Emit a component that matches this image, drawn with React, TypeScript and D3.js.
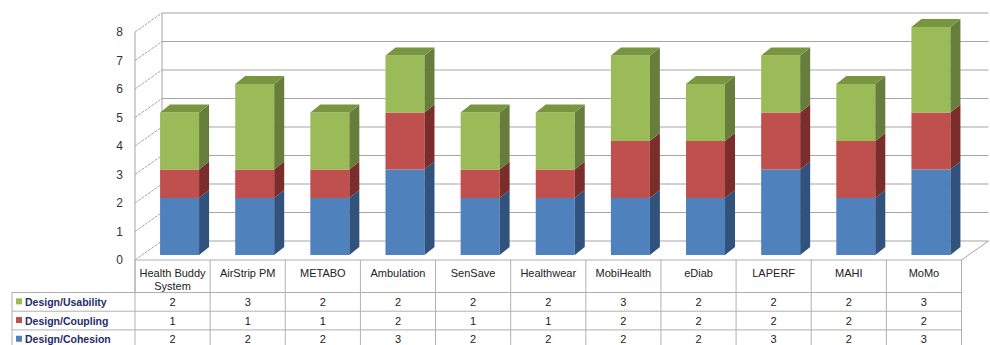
import React, { useEffect, useRef } from "react";
import * as d3 from "d3";

const categories = [
	"Health Buddy System",
	"AirStrip PM",
	"METABO",
	"Ambulation",
	"SenSave",
	"Healthwear",
	"MobiHealth",
	"eDiab",
	"LAPERF",
	"MAHI",
	"MoMo",
];
const cohesion = [2, 2, 2, 3, 2, 2, 2, 2, 3, 2, 3];
const coupling = [1, 1, 1, 2, 1, 1, 2, 2, 2, 2, 2];
const usability = [2, 3, 2, 2, 2, 2, 3, 2, 2, 2, 3];
const seriesNames = ["Design/Cohesion", "Design/Coupling", "Design/Usability"];
const yTicks = [0, 1, 2, 3, 4, 5, 6, 7, 8];

const colors = {
	"Design/Cohesion": { front: "#4F81BD", side: "#30527C", top: "#3E6A9E" },
	"Design/Coupling": { front: "#C0504D", side: "#7B2D2B", top: "#9C3E3B" },
	"Design/Usability": { front: "#9BBB59", side: "#677D3B", top: "#78963F" },
} as Record<string, { front: string; side: string; top: string }>;

const App: React.FC = () => {
	const chartRef = useRef<SVGSVGElement | null>(null);

	useEffect(() => {
		if (!chartRef.current) return;
		const svg = d3.select(chartRef.current);
		const font = "'Liberation Sans', Arial, sans-serif";

		const left = 135;
		const right = 961.5;
		const wall = { dx: 27, dy: -19 };
		const barOff = { dx: 7, dy: -5 };
		const barDepth = { dx: 10, dy: -8 };
		const barW = 39;

		const x = d3.scaleBand<string>().domain(categories).range([left, right]);
		const y = d3.scaleLinear().domain([0, 8]).range([260, 32]);

		const rows = categories.map((c, i) => ({
			name: c,
			"Design/Cohesion": cohesion[i],
			"Design/Coupling": coupling[i],
			"Design/Usability": usability[i],
		}));
		const stacked = d3.stack<any>().keys(seriesNames)(rows);

		const grid = svg.append("g").attr("stroke", "#a6a6a6").attr("fill", "none");
		// left side wall
		grid.append("line")
			.attr("x1", left).attr("x2", left)
			.attr("y1", y(8)).attr("y2", y(0));
		grid.append("line")
			.attr("x1", left + wall.dx).attr("x2", left + wall.dx)
			.attr("y1", y(8) + wall.dy).attr("y2", y(0) + wall.dy);
		grid.selectAll(".side")
			.data(yTicks)
			.enter()
			.append("line")
			.attr("x1", left)
			.attr("y1", (d) => y(d))
			.attr("x2", left + wall.dx)
			.attr("y2", (d) => y(d) + wall.dy)
			.attr("stroke-dasharray", "3,1");
		// back wall gridlines
		grid.selectAll(".back")
			.data(yTicks)
			.enter()
			.append("line")
			.attr("x1", left + wall.dx)
			.attr("y1", (d) => y(d) + wall.dy)
			.attr("x2", right + wall.dx)
			.attr("y2", (d) => y(d) + wall.dy)
			.attr("stroke-width", 1.2);
		// floor right edge
		grid.append("line")
			.attr("x1", right).attr("y1", y(0))
			.attr("x2", right + wall.dx).attr("y2", y(0) + wall.dy);

		// y tick labels
		svg.append("g")
			.selectAll("text")
			.data(yTicks)
			.enter()
			.append("text")
			.attr("x", 123)
			.attr("y", (d) => y(d) + 4)
			.attr("text-anchor", "end")
			.attr("font-family", font)
			.attr("font-size", 12)
			.attr("fill", "#333")
			.text((d) => d);

		// bars
		const bars = svg.append("g");
		categories.forEach((c, i) => {
			const x0 = (x(c) || 0) + (x.bandwidth() - barW) / 2 + barOff.dx;
			const x1 = x0 + barW;
			stacked.forEach((s, si) => {
				const seg = s[i];
				const col = colors[s.key];
				const yb = y(seg[0]) + barOff.dy;
				const yt = y(seg[1]) + barOff.dy;
				bars.append("rect")
					.attr("x", x0)
					.attr("y", yt)
					.attr("width", barW)
					.attr("height", yb - yt)
					.attr("fill", col.front);
				bars.append("path")
					.attr(
						"d",
						`M${x1},${yb}L${x1 + barDepth.dx},${yb + barDepth.dy}L${x1 + barDepth.dx},${yt + barDepth.dy}L${x1},${yt}Z`
					)
					.attr("fill", col.side);
				if (si === stacked.length - 1) {
					bars.append("path")
						.attr(
							"d",
							`M${x0},${yt}L${x0 + barDepth.dx},${yt + barDepth.dy}L${x1 + barDepth.dx},${yt + barDepth.dy}L${x1},${yt}Z`
						)
						.attr("fill", col.top);
				}
			});
		});

		// data table
		const table = svg.append("g");
		const headTop = 260;
		const headBottom = 292.5;
		const rowH = 18.7;
		const tableRows = [
			{ name: "Design/Usability", values: usability },
			{ name: "Design/Coupling", values: coupling },
			{ name: "Design/Cohesion", values: cohesion },
		];
		const lineColor = "#b0b0b0";

		// header
		table.append("rect")
			.attr("x", left).attr("y", headTop)
			.attr("width", right - left).attr("height", headBottom - headTop)
			.attr("fill", "none").attr("stroke", lineColor);
		table.append("rect")
			.attr("x", 12).attr("y", headBottom)
			.attr("width", right - 12).attr("height", rowH * 3)
			.attr("fill", "none").attr("stroke", lineColor);
		tableRows.forEach((r, ri) => {
			if (ri > 0) {
				table.append("line")
					.attr("x1", 12).attr("x2", right)
					.attr("y1", headBottom + ri * rowH).attr("y2", headBottom + ri * rowH)
					.attr("stroke", lineColor);
			}
		});
		table.append("line")
			.attr("x1", left).attr("x2", left)
			.attr("y1", headTop).attr("y2", 345)
			.attr("stroke", lineColor);
		categories.forEach((c) => {
			const cx = x(c) || 0;
			table.append("line")
				.attr("x1", cx + x.bandwidth()).attr("x2", cx + x.bandwidth())
				.attr("y1", headTop).attr("y2", 345)
				.attr("stroke", lineColor);
		});

		// header labels, wrapped to the column width
		categories.forEach((c) => {
			const cx = (x(c) || 0) + x.bandwidth() / 2;
			const t = table.append("text")
				.attr("x", cx)
				.attr("text-anchor", "middle")
				.attr("font-family", font)
				.attr("font-size", 11)
				.attr("fill", "#222");
			const words = c.split(" ");
			let line: string[] = [];
			let lineNo = 0;
			let tspan = t.append("tspan").attr("x", cx).attr("y", 277);
			words.forEach((w) => {
				line.push(w);
				tspan.text(line.join(" "));
				if ((tspan.node() as SVGTSpanElement).getComputedTextLength() > x.bandwidth() - 6 && line.length > 1) {
					line.pop();
					tspan.text(line.join(" "));
					line = [w];
					lineNo++;
					tspan = t.append("tspan").attr("x", cx).attr("y", 277 + lineNo * 13).text(w);
				}
			});
		});

		// rows
		tableRows.forEach((r, ri) => {
			const cy = headBottom + ri * rowH + rowH / 2;
			table.append("rect")
				.attr("x", 16).attr("y", cy - 3.5)
				.attr("width", 6).attr("height", 6)
				.attr("fill", colors[r.name].front);
			table.append("text")
				.attr("x", 25).attr("y", cy + 4)
				.attr("font-family", font)
				.attr("font-size", 10.5)
				.attr("font-weight", "bold")
				.attr("fill", "#1F2D6B")
				.text(r.name);
			table.selectAll(null)
				.data(r.values)
				.enter()
				.append("text")
				.attr("x", (_d, i) => (x(categories[i]) || 0) + x.bandwidth() / 2)
				.attr("y", cy + 4)
				.attr("text-anchor", "middle")
				.attr("font-family", font)
				.attr("font-size", 11)
				.attr("fill", "#222")
				.text((d) => d);
		});

		return () => {
			svg.selectAll("*").remove();
		};
	}, []);

	return (
		<svg
			ref={chartRef}
			width={990}
			height={345}
			style={{ position: "absolute", left: 0, top: 0, background: "#fff" }}
		/>
	);
};

export default App;
